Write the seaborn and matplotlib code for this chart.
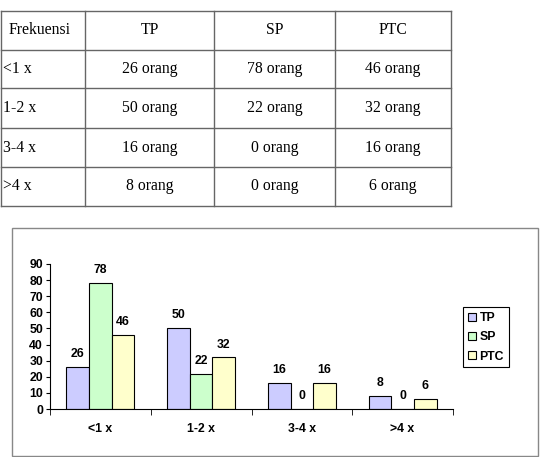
import matplotlib.pyplot as plt
import seaborn as sns
import pandas as pd
from matplotlib.patches import Rectangle

categories = ["<1 x", "1-2 x", "3-4 x", ">4 x"]
series = ["TP", "SP", "PTC"]
tp = [26, 50, 16, 8]
sp = [78, 22, 0, 0]
ptc = [46, 32, 16, 6]
colors = ["#CCCCFF", "#CCFFCC", "#FFFFCC"]
header = ["Frekuensi", "TP", "SP", "PTC"]
yticks = [0, 10, 20, 30, 40, 50, 60, 70, 80, 90]

W, H = 546, 457
fig = plt.figure(figsize=(W / 100, H / 100), dpi=100)

# pixel canvas for the table and chart frame
bg = fig.add_axes([0, 0, 1, 1])
bg.set_xlim(0, W)
bg.set_ylim(H, 0)
bg.axis("off")

col_x = [0.5, 85, 214, 335, 451]
row_y = [11, 50, 88, 128, 167, 206]
for x in col_x:
    bg.plot([x, x], [row_y[0], row_y[-1]], color="#666666", lw=1)
for y in row_y:
    bg.plot([col_x[0], col_x[-1]], [y, y], color="#666666", lw=1)

serif = "Liberation Serif"
fs = 11.3
values = [tp, sp, ptc]
for j, h in enumerate(header):
    yc = (row_y[0] + row_y[1]) / 2
    if j == 0:
        bg.text(9, yc, h, ha="left", va="center", fontsize=fs, family=serif)
    else:
        bg.text((col_x[j] + col_x[j + 1]) / 2, yc, h, ha="center", va="center",
                fontsize=fs, family=serif)
for i, c in enumerate(categories):
    yc = (row_y[i + 1] + row_y[i + 2]) / 2
    bg.text(3, yc, c, ha="left", va="center", fontsize=fs, family=serif)
    for j, v in enumerate(values):
        bg.text((col_x[j + 1] + col_x[j + 2]) / 2, yc, "{} orang".format(v[i]),
                ha="center", va="center", fontsize=fs, family=serif)

# chart frame
bg.add_patch(Rectangle((12, 228), 526, 228, fill=False, edgecolor="#888888", lw=1))

# bar chart {{
df = pd.DataFrame({
    "freq": categories * 3,
    "grup": [s for s in series for _ in categories],
    "n": tp + sp + ptc,
})

plt.rcParams["font.family"] = ["Liberation Sans", "DejaVu Sans"]
ax = fig.add_axes([50 / W, (H - 409) / H, 403 / W, 145 / H])
sns.barplot(data=df, x="freq", y="n", hue="grup", palette=colors,
            width=0.675, saturation=1, edgecolor="black", linewidth=0.8, ax=ax)

for cont in ax.containers:
    ax.bar_label(cont, padding=5, fontsize=8.8, fontweight="bold")

ax.set_ylim(0, 90)
ax.set_xlim(-0.5, 3.5)
ax.set_yticks(yticks)
ax.set_xlabel("")
ax.set_ylabel("")
ax.spines["top"].set_visible(False)
ax.spines["right"].set_visible(False)
ax.set_facecolor("none")
ax.set_xticks([-0.5, 0.5, 1.5, 2.5, 3.5], minor=True)
ax.tick_params(axis="x", which="major", length=0, pad=10, labelsize=8.8)
ax.tick_params(axis="x", which="minor", length=4, direction="out")
ax.tick_params(axis="y", length=3, pad=2, labelsize=8.8)
for lab in ax.get_xticklabels() + ax.get_yticklabels():
    lab.set_fontweight("bold")

handles, labels = ax.get_legend_handles_labels()
ax.get_legend().remove()
leg = fig.legend(handles, labels, loc="upper left",
                 bbox_to_anchor=(463 / W, 1 - 307 / H), fancybox=False,
                 edgecolor="black", framealpha=1, handlelength=0.65, handleheight=0.65,
                 handletextpad=0.3, borderpad=0.4, labelspacing=0.6,
                 borderaxespad=0, prop={"size": 8.8, "weight": "bold"})
leg.get_frame().set_linewidth(0.8)
# }}

fig.savefig("out.png", dpi=100)
